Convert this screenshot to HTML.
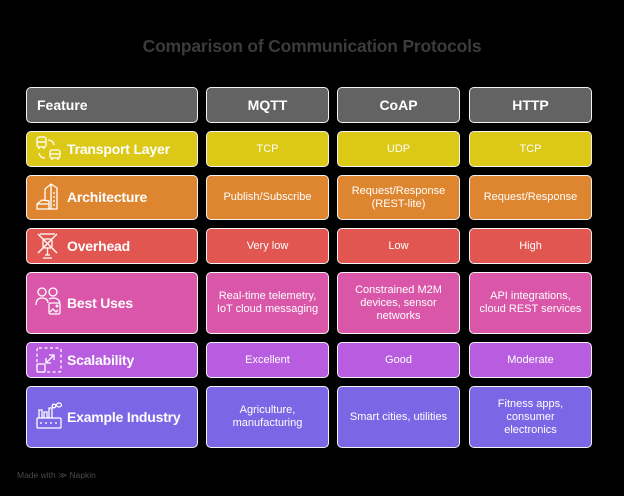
<!DOCTYPE html>
<html><head><meta charset="utf-8"><style>
*{margin:0;padding:0;box-sizing:border-box}
body{width:624px;height:496px;background:#000;position:relative;overflow:hidden;font-family:"Liberation Sans",sans-serif}
.t{position:absolute;left:0;width:624px;top:36px;text-align:center;color:#3b3b3b;font-weight:bold;font-size:17.5px;letter-spacing:-0.2px}
.b{position:absolute;border:1.5px solid #f2f2f2;border-radius:5px;display:flex;align-items:center;justify-content:center;text-align:center;color:#fff;font-size:11px;line-height:13px}
.h{background:#636363;font-weight:bold;font-size:14px}
.f{justify-content:flex-start;padding-left:40px;font-weight:bold;font-size:14px;letter-spacing:-0.2px}
.y{background:#dcc816}.o{background:#de8530}.r{background:#e25652}.p{background:#d956a9}.u{background:#b85ce0}.v{background:#7b66e6}
svg.i{position:absolute;left:8px}
.m{position:absolute;left:17px;top:470px;color:#4a4a4a;font-size:8.5px}
</style></head><body>
<div class="t">Comparison of Communication Protocols</div>

<div class="b h" style="left:26px;top:87px;width:172px;height:36px;justify-content:flex-start;padding-left:10px">Feature</div>
<div class="b h" style="left:206px;top:87px;width:123px;height:36px">MQTT</div>
<div class="b h" style="left:337px;top:87px;width:123px;height:36px">CoAP</div>
<div class="b h" style="left:469px;top:87px;width:123px;height:36px">HTTP</div>

<div class="b f y" style="left:26px;top:131px;width:172px;height:36px">
<svg class="i" width="28" height="28" viewBox="0 0 28 28" style="top:3px" fill="none" stroke="#fff" stroke-width="1.3"><rect x="2" y="2" width="9" height="10" rx="2"/><line x1="2" y1="7" x2="11" y2="7"/><line x1="4" y1="12" x2="4" y2="14"/><line x1="9" y1="12" x2="9" y2="14"/><path d="M13 5 q5 0 6 5"/><path d="M10 23 q-5 0 -6 -5"/><rect x="15" y="15" width="10" height="8" rx="2"/><line x1="15" y1="19" x2="25" y2="19"/><line x1="17" y1="23" x2="17" y2="25"/><line x1="23" y1="23" x2="23" y2="25"/></svg>Transport Layer</div>
<div class="b y" style="left:206px;top:131px;width:123px;height:36px">TCP</div>
<div class="b y" style="left:337px;top:131px;width:123px;height:36px">UDP</div>
<div class="b y" style="left:469px;top:131px;width:123px;height:36px">TCP</div>

<div class="b f o" style="left:26px;top:175px;width:172px;height:45px">
<svg class="i" width="28" height="32" viewBox="0 0 28 32" style="top:5px" fill="none" stroke="#fff" stroke-width="1.3"><path d="M10 20 V8 l6 -5 l6 4 v21 h-8"/><line x1="16" y1="3" x2="16" y2="28"/><line x1="18" y1="12" x2="20" y2="12"/><line x1="18" y1="16" x2="20" y2="16"/><line x1="18" y1="20" x2="20" y2="20"/><line x1="18" y1="24" x2="20" y2="24"/><path d="M2 23 l5 -4 l7 1 v8 H2 z"/><line x1="2" y1="23" x2="14" y2="23"/></svg>Architecture</div>
<div class="b o" style="left:206px;top:175px;width:123px;height:45px">Publish/Subscribe</div>
<div class="b o" style="left:337px;top:175px;width:123px;height:45px">Request/Response<br>(REST-lite)</div>
<div class="b o" style="left:469px;top:175px;width:123px;height:45px">Request/Response</div>

<div class="b f r" style="left:26px;top:228px;width:172px;height:36px">
<svg class="i" width="26" height="30" viewBox="0 0 26 30" style="top:2px" fill="none" stroke="#fff" stroke-width="1.3"><line x1="3" y1="3" x2="22" y2="22"/><line x1="22" y1="3" x2="3" y2="22"/><rect x="8" y="8" width="9" height="9" rx="2"/><line x1="12.5" y1="17" x2="12.5" y2="24"/><path d="M8 27 h9 M10 24 h5"/><path d="M5 3 h15"/></svg>Overhead</div>
<div class="b r" style="left:206px;top:228px;width:123px;height:36px">Very low</div>
<div class="b r" style="left:337px;top:228px;width:123px;height:36px">Low</div>
<div class="b r" style="left:469px;top:228px;width:123px;height:36px">High</div>

<div class="b f p" style="left:26px;top:272px;width:172px;height:62px">
<svg class="i" width="28" height="34" viewBox="0 0 28 34" style="top:12px" fill="none" stroke="#fff" stroke-width="1.3"><circle cx="7" cy="7" r="4"/><circle cx="18" cy="7" r="4"/><path d="M1 20 q0 -7 6 -7 q6 0 6 5"/><path d="M14 14 q2 -1 4 -1 q6 0 7 5"/><rect x="14" y="18" width="11" height="11" rx="1.5"/><path d="M15 27 l3 -3 l3 3 l2 -2"/><circle cx="22" cy="21" r="0.8"/></svg>Best Uses</div>
<div class="b p" style="left:206px;top:272px;width:123px;height:62px">Real-time telemetry,<br>IoT cloud messaging</div>
<div class="b p" style="left:337px;top:272px;width:123px;height:62px">Constrained M2M<br>devices, sensor<br>networks</div>
<div class="b p" style="left:469px;top:272px;width:123px;height:62px">API integrations,<br>cloud REST services</div>

<div class="b f u" style="left:26px;top:342px;width:172px;height:36px">
<svg class="i" width="28" height="28" viewBox="0 0 28 28" style="top:3px" fill="none" stroke="#fff" stroke-width="1.3"><rect x="2" y="2" width="24" height="24" rx="2" stroke-dasharray="3 2.5"/><rect x="2" y="18" width="8" height="8" rx="1" fill="#b85ce0"/><line x1="11" y1="17" x2="19" y2="9"/><path d="M14 9 h5 v5"/><path d="M11 12 v5 h5"/></svg>Scalability</div>
<div class="b u" style="left:206px;top:342px;width:123px;height:36px">Excellent</div>
<div class="b u" style="left:337px;top:342px;width:123px;height:36px">Good</div>
<div class="b u" style="left:469px;top:342px;width:123px;height:36px">Moderate</div>

<div class="b f v" style="left:26px;top:386px;width:172px;height:62px">
<svg class="i" width="28" height="32" viewBox="0 0 28 32" style="top:13px" fill="none" stroke="#fff" stroke-width="1.3"><rect x="2" y="18" width="24" height="10" rx="1"/><path d="M4 18 v-8 h3 v8 M9 18 v-6 h3 v6 M14 18 v-10 h3 v10"/><circle cx="19" cy="6" r="1.8"/><ellipse cx="24" cy="5" rx="2.5" ry="2"/><line x1="5" y1="23" x2="7" y2="23"/><line x1="10" y1="23" x2="12" y2="23"/><line x1="15" y1="23" x2="17" y2="23"/><line x1="20" y1="23" x2="22" y2="23"/></svg>Example Industry</div>
<div class="b v" style="left:206px;top:386px;width:123px;height:62px">Agriculture,<br>manufacturing</div>
<div class="b v" style="left:337px;top:386px;width:123px;height:62px">Smart cities, utilities</div>
<div class="b v" style="left:469px;top:386px;width:123px;height:62px">Fitness apps,<br>consumer<br>electronics</div>

<div class="m">Made with &#8811; Napkin</div>
</body></html>
